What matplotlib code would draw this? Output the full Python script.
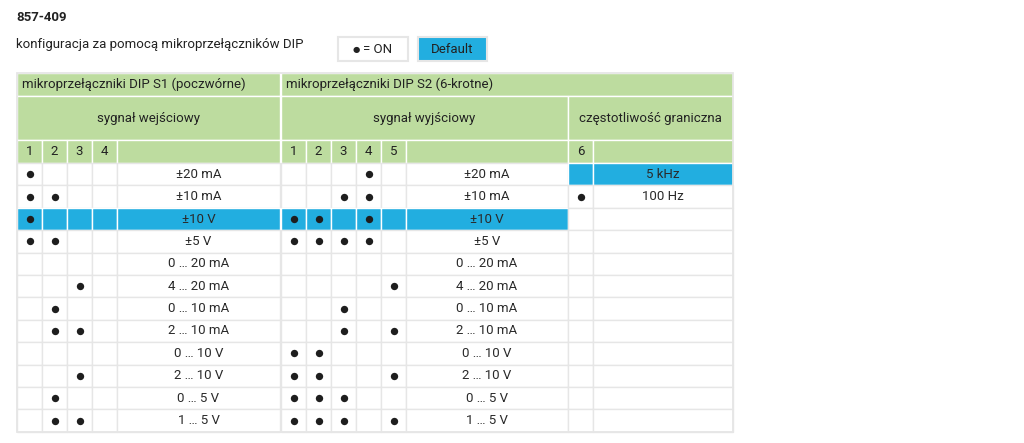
import matplotlib.pyplot as plt
from matplotlib.patches import Rectangle

plt.rcParams['font.family'] = ['Roboto', 'DejaVu Sans']

# table content
title = "857-409"
subtitle = "konfiguracja za pomocą mikroprzełączników DIP"
s1_header = "mikroprzełączniki DIP S1 (poczwórne)"
s2_header = "mikroprzełączniki DIP S2 (6-krotne)"
s1_group = "sygnał wejściowy"
s2_group = "sygnał wyjściowy"
freq_group = "częstotliwość graniczna"

in_labels = ["±20 mA", "±10 mA", "±10 V", "±5 V", "0 … 20 mA", "4 … 20 mA",
             "0 … 10 mA", "2 … 10 mA", "0 … 10 V", "2 … 10 V", "0 … 5 V", "1 … 5 V"]
out_labels = in_labels
# switches ON per row (1-based switch numbers)
s1_on = [[1], [1, 2], [1], [1, 2], [], [3], [2], [2, 3], [], [3], [2], [2, 3]]
s2_on = [[4], [3, 4], [1, 2, 4], [1, 2, 3, 4], [], [5], [3], [3, 5],
         [1, 2], [1, 2, 5], [1, 2, 3], [1, 2, 3, 5]]
freq_labels = ["5 kHz", "100 Hz"]
s6_on = [False, True]
default_row = 2
default_freq = 0

GREEN = "#bddc9f"
BLUE = "#22aee0"
GRID = "#e6e6e6"
TXT = "#2a2a2a"

fig = plt.figure(figsize=(10.24, 4.43), dpi=100)
ax = fig.add_axes([0, 0, 1, 1])
ax.set_xlim(0, 1024)
ax.set_ylim(443, 0)
ax.axis("off")

fs = 9.5

ax.text(16, 17, title, fontsize=fs, fontweight="bold", color="#222", va="center")
ax.text(16, 44, subtitle, fontsize=fs, color="#222", va="center")
ax.add_patch(Rectangle((338, 37), 70, 24, facecolor="white", edgecolor="#e6e6e6", lw=1.5))
ax.text(356, 49, "●", fontsize=6, color="#222", va="center", ha="center",
        family="DejaVu Sans")
ax.text(363, 49, "= ON", fontsize=fs, color="#222", va="center", ha="left")
ax.add_patch(Rectangle((418, 37), 69, 24, facecolor=BLUE, edgecolor="#e6e6e6", lw=1.5))
ax.text(452.5, 49, "Default", fontsize=fs, color="#222", va="center", ha="center")

# column edges
s1_x = [17, 42, 67, 92, 117, 280]
s2_x = [281, 306, 331, 356, 381, 406, 568]
f_x = [568, 593, 733]
y_h1, y_h2, y_h3, y_d = 73, 96, 140, 163
rh = 22.4
nrows = len(in_labels)
y_end = y_d + rh * nrows


def cell(x0, x1, y0, y1, color, edge):
    ax.add_patch(Rectangle((x0, y0), x1 - x0, y1 - y0, facecolor=color,
                           edgecolor=edge, lw=1.0))


# header rows
cell(s1_x[0], s1_x[-1], y_h1, y_h2, GREEN, "white")
cell(s2_x[0], f_x[-1], y_h1, y_h2, GREEN, "white")
ax.text(s1_x[0] + 5, (y_h1 + y_h2) / 2, s1_header, fontsize=fs, color="#222", va="center")
ax.text(s2_x[0] + 5, (y_h1 + y_h2) / 2, s2_header, fontsize=fs, color="#222", va="center")

cell(s1_x[0], s1_x[-1], y_h2, y_h3, GREEN, "white")
cell(s2_x[0], s2_x[-1], y_h2, y_h3, GREEN, "white")
cell(f_x[0], f_x[-1], y_h2, y_h3, GREEN, "white")
for xs, lab in [(s1_x, s1_group), (s2_x, s2_group), (f_x, freq_group)]:
    ax.text((xs[0] + xs[-1]) / 2, (y_h2 + y_h3) / 2, lab, fontsize=fs, color="#222",
            va="center", ha="center")

for xs in [s1_x, s2_x, f_x]:
    for i in range(len(xs) - 1):
        cell(xs[i], xs[i + 1], y_h3, y_d, GREEN, "white")
        if i < len(xs) - 2:
            num = i + 1 if xs is not f_x else 6
            ax.text((xs[i] + xs[i + 1]) / 2, (y_h3 + y_d) / 2, str(num), fontsize=fs,
                    color="#222", va="center", ha="center")

# data rows
for r in range(nrows):
    y0 = y_d + r * rh
    y1 = y0 + rh
    yc = (y0 + y1) / 2
    fill = BLUE if r == default_row else "white"
    for xs in [s1_x, s2_x]:
        for i in range(len(xs) - 1):
            cell(xs[i], xs[i + 1], y0, y1, fill, "white" if r == default_row else GRID)
    ffill = BLUE if r == default_freq else "white"
    for i in range(len(f_x) - 1):
        cell(f_x[i], f_x[i + 1], y0, y1, ffill, "white" if r == default_freq else GRID)

    ax.text((s1_x[-2] + s1_x[-1]) / 2, yc, in_labels[r], fontsize=fs, color=TXT,
            va="center", ha="center")
    ax.text((s2_x[-2] + s2_x[-1]) / 2, yc, out_labels[r], fontsize=fs, color=TXT,
            va="center", ha="center")
    if r < len(freq_labels):
        ax.text((f_x[1] + f_x[2]) / 2, yc, freq_labels[r], fontsize=fs, color=TXT,
                va="center", ha="center")

    xs_dots = [(s1_x[k - 1] + s1_x[k]) / 2 for k in s1_on[r]]
    xs_dots += [(s2_x[k - 1] + s2_x[k]) / 2 for k in s2_on[r]]
    if r < len(s6_on) and s6_on[r]:
        xs_dots.append((f_x[0] + f_x[1]) / 2)
    ax.scatter(xs_dots, [yc] * len(xs_dots), s=28, color="#1e1e1e", zorder=5, linewidths=0)

# outer frame
ax.add_patch(Rectangle((s1_x[0], y_h1), f_x[-1] - s1_x[0], y_end - y_h1,
                       facecolor="none", edgecolor=GRID, lw=1.3, zorder=6))

fig.savefig("out.png", dpi=100)
